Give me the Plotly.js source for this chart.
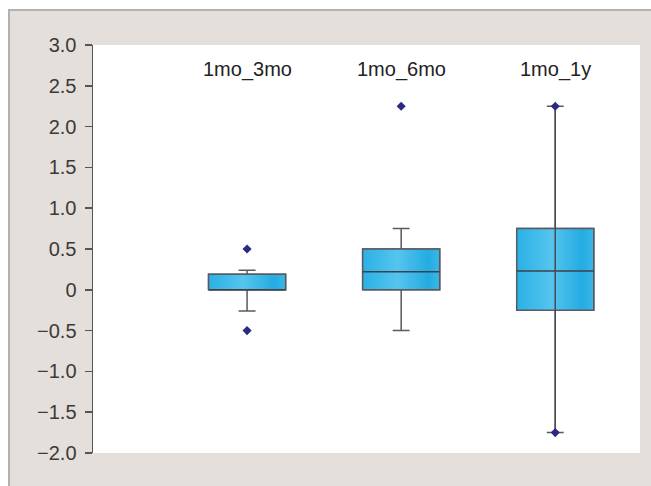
<!DOCTYPE html>
<html>
<head>
<meta charset="utf-8">
<script src="https://cdn.plot.ly/plotly-3.0.1.min.js"></script>
<style>
  html, body { margin: 0; padding: 0; background: #ffffff; }
  #frame { position: absolute; left: 8px; top: 9px; width: 643px; height: 477px;
           background: #e4dfda; border-left: 2px solid #b3b0ad; border-top: 2px solid #b3b0ad; box-sizing: border-box; }
  #chart { position: absolute; left: 0; top: 0; width: 651px; height: 486px; }
</style>
</head>
<body>
<div id="frame"></div>
<div id="chart"></div>
<script>
// Data
const categories = ["1mo_3mo", "1mo_6mo", "1mo_1y"];
const q1Values = [0.0, 0.0, -0.25];
const medianValues = [0.0, 0.22, 0.23];
const q3Values = [0.19, 0.5, 0.75];
const lowerWhisker = [-0.26, -0.5, -1.75];
const upperWhisker = [0.24, 0.75, 2.25];
const outlierCats = ["1mo_3mo", "1mo_3mo", "1mo_6mo", "1mo_1y", "1mo_1y"];
const outlierValues = [0.5, -0.5, 2.25, 2.25, -1.75];
const tickValues = [3.0, 2.5, 2.0, 1.5, 1.0, 0.5, 0, -0.5, -1.0, -1.5, -2.0];
const tickLabels = ["3.0", "2.5", "2.0", "1.5", "1.0", "0.5", "0", "\u22120.5", "\u22121.0", "\u22121.5", "\u22122.0"];
const labelY = 2.7;

const FONT = "Liberation Sans, Arial, sans-serif";
const BOX_W = 0.5;
const EDGE = "#5a5a60";
const pos = categories.map((c, i) => i);
const posOf = c => categories.indexOf(c);

// box whiskers and caps (box trace, drawn underneath)
const boxTrace = {
  type: "box",
  x: pos,
  q1: q1Values,
  median: medianValues,
  q3: q3Values,
  lowerfence: lowerWhisker,
  upperfence: upperWhisker,
  boxpoints: false,
  width: BOX_W,
  whiskerwidth: 0.22,
  fillcolor: "rgba(0,0,0,0)",
  line: { color: EDGE, width: 1.5 },
  hoverinfo: "skip",
  showlegend: false
};

// gradient-filled box bodies with outline
const gradTraces = categories.map((c, i) => ({
  type: "scatter", mode: "lines",
  x: [i - BOX_W / 2, i + BOX_W / 2, i + BOX_W / 2, i - BOX_W / 2, i - BOX_W / 2],
  y: [q1Values[i], q1Values[i], q3Values[i], q3Values[i], q1Values[i]],
  fill: "toself",
  fillgradient: {
    type: "horizontal",
    colorscale: [[0, "#2ab1e5"], [0.45, "#56c4ee"], [0.85, "#24ace2"], [1, "#3ab7e8"]]
  },
  line: { width: 1.5, color: EDGE },
  hoverinfo: "skip", showlegend: false
}));

// median lines on top of the fills
const medX = [], medY = [];
categories.forEach((c, i) => {
  medX.push(i - BOX_W / 2, i + BOX_W / 2, null);
  medY.push(medianValues[i], medianValues[i], null);
});
const medianTrace = {
  type: "scatter", mode: "lines", x: medX, y: medY,
  line: { color: "#404048", width: 1.5 },
  hoverinfo: "skip", showlegend: false
};

// the whisker of the last group runs through its box in the reference
const last = categories.length - 1;
const throughLine = {
  type: "scatter", mode: "lines",
  x: [last, last],
  y: [lowerWhisker[last], upperWhisker[last]],
  line: { color: "#4a4a55", width: 1.5 },
  hoverinfo: "skip", showlegend: false
};

const pointTrace = {
  type: "scatter",
  mode: "markers",
  x: outlierCats.map(posOf),
  y: outlierValues,
  marker: { symbol: "diamond", size: 7, color: "#2a2a80" },
  hoverinfo: "skip",
  showlegend: false
};

const annotations = categories.map((c, i) => ({
  x: i, y: labelY, xref: "x", yref: "y", text: c, showarrow: false,
  font: { family: FONT, size: 20, color: "#222222" }
}));

const layout = {
  width: 651, height: 486,
  margin: { l: 93, r: 11, t: 45, b: 33, pad: 0 },
  paper_bgcolor: "rgba(0,0,0,0)",
  plot_bgcolor: "#ffffff",
  font: { family: FONT, size: 17, color: "#333333" },
  xaxis: {
    range: [-1, 2.55],
    showticklabels: false,
    showgrid: false, zeroline: false, showline: false, ticks: ""
  },
  yaxis: {
    range: [-2.0, 3.0],
    tickvals: tickValues,
    ticktext: tickLabels,
    ticks: "outside", ticklen: 7, tickwidth: 1.5, tickcolor: "#555555",
    showline: true, linecolor: "#555555", linewidth: 1.5,
    showgrid: false, zeroline: false,
    ticklabelstandoff: 4,
    tickfont: { size: 20, color: "#3a3a3a" }
  },
  annotations: annotations
};

Plotly.newPlot("chart", [boxTrace, ...gradTraces, medianTrace, throughLine, pointTrace], layout, { displayModeBar: false, staticPlot: true });
</script>
</body>
</html>
